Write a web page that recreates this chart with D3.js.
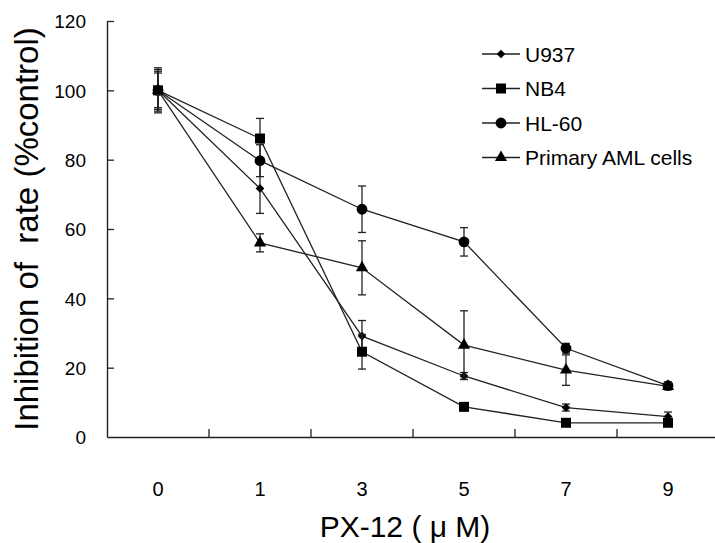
<!DOCTYPE html>
<html>
<head>
<meta charset="utf-8">
<script src="https://cdn.jsdelivr.net/npm/d3@7"></script>
<style>
  body { margin: 0; background: #fff; }
  text { font-family: "Liberation Sans", Arial, sans-serif; fill: #000; }
</style>
</head>
<body>
<div id="chart"></div>
<script>
// doses on the x axis (PX-12, uM)
var doses = ["0", "1", "3", "5", "7", "9"];
var yTicks = [0, 20, 40, 60, 80, 100, 120];

// inhibition rate (%control) per cell line, with error (+/-)
var u937 = [100, 71.7, 29.1, 17.6, 8.5, 5.9];
var u937Err = [5, 7.2, 4.5, 1.0, 1.0, 1.3];
var nb4 = [100, 86.1, 24.6, 8.7, 4.1, 4.1];
var nb4Err = [6, 5.8, 5.0, 0.8, 0.7, 0.8];
var hl60 = [100, 79.7, 65.7, 56.3, 25.6, 14.8];
var hl60Err = [5.5, 4.6, 6.7, 4.1, 1.4, 1.0];
var primary = [100, 56.0, 48.8, 26.5, 19.3, 14.6];
var primaryErr = [6.5, 2.6, 7.8, 9.9, 4.4, 1.0];

var seriesNames = ["U937", "NB4", "HL-60", "Primary AML cells"];
var seriesVals = [u937, nb4, hl60, primary];
var seriesErrs = [u937Err, nb4Err, hl60Err, primaryErr];
var seriesMarks = ["diamond", "square", "circle", "triangle"];

var width = 715;
var height = 543;
var padding = { left: 107, right: -4, top: 21, bottom: 106 };
var canvasWidth = width - padding.left - padding.right;
var canvasHeight = height - padding.top - padding.bottom;

var svg = d3.select('#chart')
            .append('svg')
                .attr("width", width)
                .attr("height", height);

var g = svg.append("g")
            .attr("transform", "translate(" + padding.left + "," + padding.top + ")");

var xScale = d3.scaleBand()
                .domain(doses)
                .range([0, canvasWidth])
                .padding(0);

var yScale = d3.scaleLinear()
                .domain([0, 120])
                .range([canvasHeight, 0]);

function cx(i) { return xScale(doses[i]) + xScale.bandwidth() / 2; }

function markerPath(kind) {
    if (kind == "diamond") return d3.symbol().type(d3.symbolSquare).size(38)();
    if (kind == "square") return d3.symbol().type(d3.symbolSquare).size(100)();
    if (kind == "circle") return d3.symbol().type(d3.symbolCircle).size(92)();
    return d3.symbol().type(d3.symbolTriangle).size(64)();
}
function markerRot(kind) { return kind == "diamond" ? " rotate(45)" : ""; }

// y axis, ticks pointing inward
var yAxis = g.append("g")
    .call(d3.axisLeft(yScale).tickValues(yTicks).tickSizeInner(-7).tickSizeOuter(0).tickPadding(21));
yAxis.select(".domain").attr("stroke", "#222").attr("stroke-width", 1.4);
yAxis.selectAll(".tick line").attr("stroke", "#222").attr("stroke-width", 1.3);
yAxis.selectAll(".tick text").style("font-size", "19px").attr("dy", "0.36em");
yAxis.selectAll(".tick").filter(function(d){ return d == 0; }).select("line").remove();

// x axis: labels at category centres, ticks at category boundaries
var xAxis = g.append("g")
    .attr("transform", "translate(0," + canvasHeight + ")")
    .call(d3.axisBottom(xScale).tickSize(0).tickPadding(45));
xAxis.select(".domain").attr("stroke", "#222").attr("stroke-width", 1.4);
xAxis.selectAll(".tick text").style("font-size", "20px");

g.selectAll(".xsep")
    .data(doses.slice(1))
    .enter()
    .append("line")
    .attr("class", "xsep")
    .attr("x1", function(d){ return xScale(d); })
    .attr("x2", function(d){ return xScale(d); })
    .attr("y1", canvasHeight)
    .attr("y2", canvasHeight - 8)
    .attr("stroke", "#222")
    .attr("stroke-width", 1.3);

// axis titles
svg.append("text")
    .attr("transform", "translate(38," + 229 + ") rotate(-90)")
    .attr("text-anchor", "middle")
    .style("font-size", "33px")
    .attr("xml:space", "preserve")
    .text("Inhibition of  rate (%control)");

svg.append("text")
    .attr("x", 405)
    .attr("y", 537)
    .attr("text-anchor", "middle")
    .style("font-size", "30px")
    .text("PX-12 ( \u03bc M)");

var lineFunc = d3.line()
    .x(function(d, i){ return cx(i); })
    .y(function(d){ return yScale(d); });

seriesVals.forEach(function(vals, s){
    var errs = seriesErrs[s];
    var sg = g.append("g");

    sg.append("path")
        .attr("d", lineFunc(vals))
        .attr("fill", "none")
        .attr("stroke", "#222")
        .attr("stroke-width", 1.3);

    // error bars
    vals.forEach(function(v, i){
        var x = cx(i);
        var top = yScale(v + errs[i]);
        var bot = yScale(v - errs[i]);
        sg.append("line").attr("x1", x).attr("x2", x).attr("y1", top).attr("y2", bot)
            .attr("stroke", "#222").attr("stroke-width", 1.3);
        [top, bot].forEach(function(yy){
            sg.append("line").attr("x1", x - 4).attr("x2", x + 4).attr("y1", yy).attr("y2", yy)
                .attr("stroke", "#222").attr("stroke-width", 1.3);
        });
    });

    sg.selectAll("path.mark")
        .data(vals)
        .enter()
        .append("path")
        .attr("class", "mark")
        .attr("d", markerPath(seriesMarks[s]))
        .attr("transform", function(d, i){
            return "translate(" + cx(i) + "," + yScale(d) + ")" + markerRot(seriesMarks[s]);
        })
        .attr("fill", "#000");
});

// legend
var legend = svg.append("g").attr("transform", "translate(482,54)");
seriesNames.forEach(function(name, s){
    var row = legend.append("g").attr("transform", "translate(0," + (s * 34.5) + ")");
    row.append("line").attr("x1", 0).attr("x2", 38).attr("y1", 0).attr("y2", 0)
        .attr("stroke", "#222").attr("stroke-width", 1.3);
    row.append("path")
        .attr("d", markerPath(seriesMarks[s]))
        .attr("transform", "translate(19,0)" + markerRot(seriesMarks[s]))
        .attr("fill", "#000");
    row.append("text")
        .attr("x", 43)
        .attr("y", 7.5)
        .style("font-size", "21px")
        .text(name);
});
</script>
</body>
</html>
